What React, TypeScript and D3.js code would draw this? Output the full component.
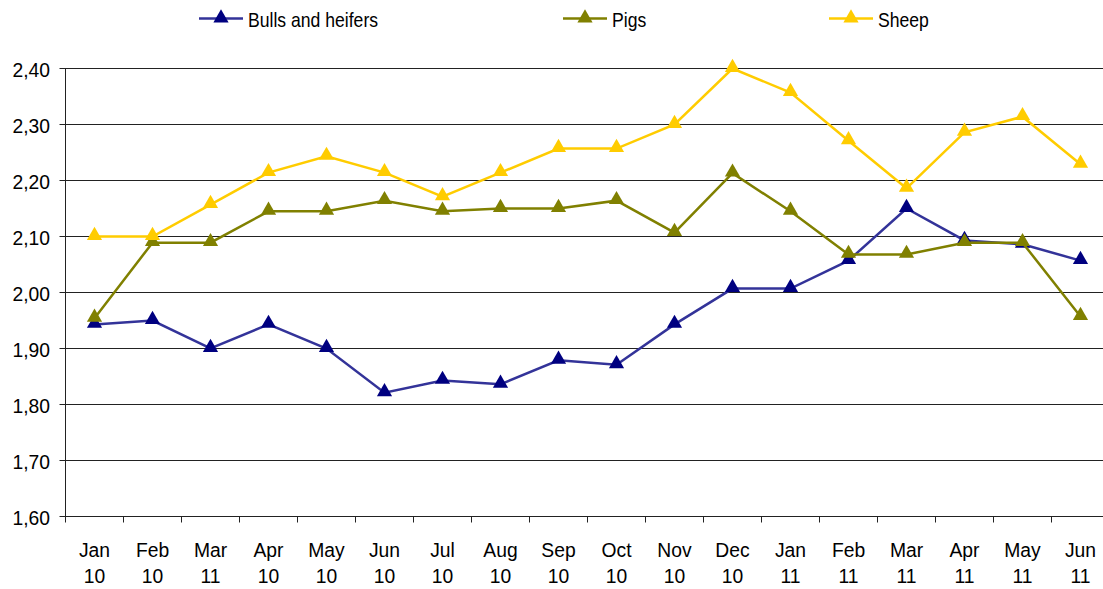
import React from "react";
import * as d3 from "d3";

const months = ["Jan", "Feb", "Mar", "Apr", "May", "Jun", "Jul", "Aug", "Sep", "Oct", "Nov", "Dec", "Jan", "Feb", "Mar", "Apr", "May", "Jun"];
const years = ["10", "10", "11", "10", "10", "10", "10", "10", "10", "10", "10", "10", "11", "11", "11", "11", "11", "11"];
const bulls = [1.943, 1.95, 1.9, 1.943, 1.9, 1.821, 1.843, 1.836, 1.879, 1.871, 1.943, 2.007, 2.007, 2.057, 2.15, 2.093, 2.086, 2.057];
const pigs = [1.954, 2.089, 2.089, 2.145, 2.145, 2.164, 2.145, 2.15, 2.15, 2.164, 2.107, 2.213, 2.145, 2.068, 2.068, 2.089, 2.089, 1.957];
const sheep = [2.1, 2.1, 2.157, 2.214, 2.243, 2.214, 2.171, 2.214, 2.257, 2.257, 2.3, 2.4, 2.357, 2.271, 2.186, 2.286, 2.314, 2.229];
const yTicks = [1.6, 1.7, 1.8, 1.9, 2.0, 2.1, 2.2, 2.3, 2.4];

const series = [
  { name: "Bulls and heifers", values: bulls, line: "#333399", marker: "#000080", lx: 221 },
  { name: "Pigs", values: pigs, line: "#808000", marker: "#808000", lx: 585 },
  { name: "Sheep", values: sheep, line: "#FFCC00", marker: "#FFCC00", lx: 851 },
];

const W = 1103, H = 589;
const left = 65.5, bandW = 58, top = 68.5, bottom = 516.5;

function Label({ x, y, anchor, size, sx, children }: { x: number; y: number; anchor?: string; size: number; sx: number; children: React.ReactNode }) {
  return (
    <text transform={`translate(${x},${y}) scale(${sx},1)`} textAnchor={anchor || "start"} fontSize={size} fill="#000">
      {children}
    </text>
  );
}

export default function App() {
  const x = d3.scaleBand<number>().domain(months.map((_, i) => i)).range([left, left + bandW * months.length]);
  const y = d3.scaleLinear().domain([1.6, 2.4]).range([bottom, top]);
  const cx = (i: number) => (x(i) as number) + x.bandwidth() / 2;
  const tri = d3.symbol().type(d3.symbolTriangle).size(100);
  const font = "'Liberation Sans', Arial, sans-serif";
  return (
    <svg width={W} height={H} style={{ position: "absolute", left: 0, top: 0, background: "#fff" }} fontFamily={font}>
      {yTicks.map((t) => (
        <g key={t}>
          <line x1={left - 6} x2={W} y1={y(t)} y2={y(t)} stroke="#222" strokeWidth={1} />
          <Label x={50} y={y(t) + 8.5} anchor="end" size={21} sx={0.92}>{d3.format(".2f")(t).replace(".", ",")}</Label>
        </g>
      ))}
      <line x1={left} x2={left} y1={top} y2={bottom} stroke="#222" strokeWidth={1} />
      {months.map((_, i) => (
        <line key={"tk" + i} x1={(x(i) as number)} x2={(x(i) as number)} y1={bottom} y2={bottom + 6} stroke="#222" />
      ))}
      {months.map((m, i) => (
        <g key={"lb" + i}>
          <Label x={cx(i)} y={557} anchor="middle" size={21} sx={0.92}>{m}</Label>
          <Label x={cx(i)} y={583} anchor="middle" size={21} sx={0.92}>{years[i]}</Label>
        </g>
      ))}
      {series.map((s) => {
        const line = d3.line<number>().x((_, i) => cx(i)).y((v) => y(v));
        return (
          <g key={s.name}>
            <path d={line(s.values) as string} fill="none" stroke={s.line} strokeWidth={2.5} />
            {s.values.map((v, i) => (
              <path key={i} d={tri() as string} transform={`translate(${cx(i)},${y(v) - 1})`} fill={s.marker} />
            ))}
          </g>
        );
      })}
      {series.map((s) => (
        <g key={"lg" + s.name}>
          <line x1={s.lx - 22} x2={s.lx + 22} y1={18.5} y2={18.5} stroke={s.line} strokeWidth={2.5} />
          <path d={tri() as string} transform={`translate(${s.lx},${18})`} fill={s.marker} />
          <Label x={s.lx + 27} y={27} size={20} sx={0.88}>{s.name}</Label>
        </g>
      ))}
    </svg>
  );
}
